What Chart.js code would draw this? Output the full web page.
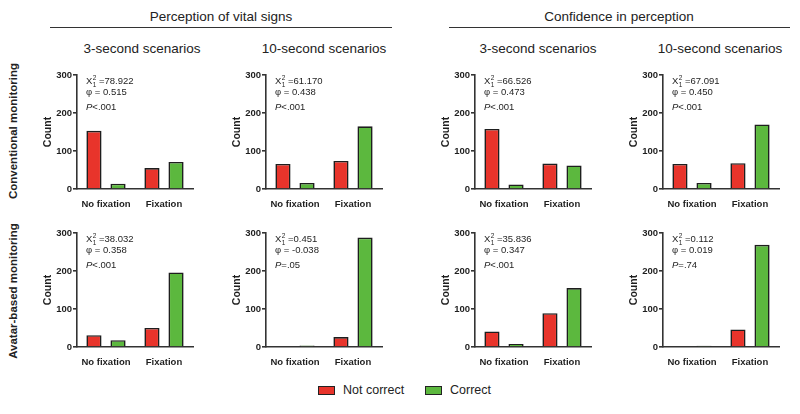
<!DOCTYPE html>
<html><head><meta charset="utf-8">
<script src="https://cdn.jsdelivr.net/npm/chart.js@4.4.1/dist/chart.umd.min.js"></script>
<style>
html,body{margin:0;padding:0;background:#fff;}
#wrap{position:relative;width:800px;height:414px;overflow:hidden;font-family:"Liberation Sans",Arial,sans-serif;color:#222;}
.t{position:absolute;white-space:nowrap;transform:translate(-50%,-50%);}
.rule{position:absolute;height:0;border-top:1.5px solid #333;}
canvas{position:absolute;}
.lg{position:absolute;display:flex;align-items:center;font-size:12.5px;}
.box{width:15px;height:7px;border:1.2px solid #222;margin-right:8px;}
</style></head><body>
<div id="wrap"></div>
<script>
// ---- data ----
const categories = ["No fixation", "Fixation"];
const seriesNames = ["Not correct", "Correct"];
const yTicks = [0, 100, 200, 300];
const groupTitles = ["Perception of vital signs", "Confidence in perception"];
const scenarioTitles = ["3-second scenarios", "10-second scenarios"];
const rowTitles = ["Conventional monitoring", "Avatar-based monitoring"];

// Conventional monitoring (top row)
const convPerc3NotCorrect  = [153, 55];
const convPerc3Correct     = [14, 71];
const convPerc10NotCorrect = [66, 74];
const convPerc10Correct    = [16, 165];
const convConf3NotCorrect  = [158, 67];
const convConf3Correct     = [12, 62];
const convConf10NotCorrect = [66, 68];
const convConf10Correct    = [16, 170];
// Avatar-based monitoring (bottom row)
const avPerc3NotCorrect  = [31, 50];
const avPerc3Correct     = [18, 196];
const avPerc10NotCorrect = [0, 26];
const avPerc10Correct    = [4, 288];
const avConf3NotCorrect  = [41, 89];
const avConf3Correct     = [8, 155];
const avConf10NotCorrect = [0, 46];
const avConf10Correct    = [3, 269];

// statistics text per panel (row-major: conv P3, P10, C3, C10, avatar P3, P10, C3, C10)
const chiSquares = ["78.922", "61.170", "66.526", "67.091", "38.032", "0.451", "35.836", "0.112"];
const phiValues  = ["0.515", "0.438", "0.473", "0.450", "0.358", "-0.038", "0.347", "0.019"];
const pValues    = ["<.001", "<.001", "<.001", "<.001", "<.001", "=.05", "<.001", "=.74"];

const RED = "#e8342b", GREEN = "#5cb83e", INK = "#1e1e1e", AXIS = "#333";
const FONT = "'Liberation Sans', Arial, sans-serif";

const panels = [
  [convPerc3NotCorrect, convPerc3Correct],
  [convPerc10NotCorrect, convPerc10Correct],
  [convConf3NotCorrect, convConf3Correct],
  [convConf10NotCorrect, convConf10Correct],
  [avPerc3NotCorrect, avPerc3Correct],
  [avPerc10NotCorrect, avPerc10Correct],
  [avConf3NotCorrect, avConf3Correct],
  [avConf10NotCorrect, avConf10Correct]
];

// ---- layout ----
const wrap = document.getElementById('wrap');
function text(str, x, y, css) {
  const d = document.createElement('div');
  d.className = 't'; d.textContent = str; d.style.left = x + 'px'; d.style.top = y + 'px';
  Object.assign(d.style, css || {}); wrap.appendChild(d); return d;
}
text(groupTitles[0], 221, 16, {fontSize: '13.5px'});
text(groupTitles[1], 619, 16, {fontSize: '13.5px'});
[[50, 392], [449, 790]].forEach(([a, b]) => {
  const r = document.createElement('div'); r.className = 'rule';
  r.style.left = a + 'px'; r.style.width = (b - a) + 'px'; r.style.top = '27px'; wrap.appendChild(r);
});
const subX = [142, 324, 538, 720];
subX.forEach((x, i) => text(scenarioTitles[i % 2], x, 48, {fontSize: '13.5px'}));
text(rowTitles[0], 13, 131, {fontSize: '11.5px', fontWeight: 'bold', transform: 'translate(-50%,-50%) rotate(-90deg)'});
text(rowTitles[1], 13, 291, {fontSize: '11.5px', fontWeight: 'bold', transform: 'translate(-50%,-50%) rotate(-90deg)'});

// legend
[[318, RED, seriesNames[0]], [425, GREEN, seriesNames[1]]].forEach(([x, c, s]) => {
  const l = document.createElement('div'); l.className = 'lg';
  l.style.left = x + 'px'; l.style.top = '383px';
  const b = document.createElement('div'); b.className = 'box'; b.style.background = c;
  const sp = document.createElement('span'); sp.textContent = s;
  l.appendChild(b); l.appendChild(sp); wrap.appendChild(l);
});

// stats annotation plugin
const statsPlugin = {
  id: 'stats',
  afterDraw(chart, args, opts) {
    const ctx = chart.ctx, a = chart.chartArea;
    const x = a.left + 9;
    ctx.save();
    ctx.fillStyle = INK; ctx.textBaseline = 'middle'; ctx.textAlign = 'left';
    ctx.font = "9.5px " + FONT;
    let y = a.top + 6.5;
    ctx.fillText('X', x, y);
    let w = ctx.measureText('X').width;
    ctx.font = "6.5px " + FONT;
    ctx.fillText('2', x + w + 0.5, y - 3);
    ctx.fillText('1', x + w + 0.5, y + 3.5);
    ctx.font = "9.5px " + FONT;
    ctx.fillText(' =' + opts.chi, x + w + 4, y);
    y = a.top + 17;
    ctx.fillText('\u03C6 = ' + opts.phi, x, y);
    y = a.top + 32;
    ctx.font = "italic 9.5px " + FONT;
    ctx.fillText('P', x, y);
    const pw = ctx.measureText('P').width;
    ctx.font = "9.5px " + FONT;
    ctx.fillText(opts.p, x + pw, y);
    ctx.restore();
  }
};

const axisLeft = [77, 266, 475, 663];
const rowTop = [67, 225];
const CW = 42 + 116 + 6, CH = 140;

panels.forEach((vals, i) => {
  const row = Math.floor(i / 4), col = i % 4;
  const cv = document.createElement('canvas');
  cv.width = CW; cv.height = CH;
  cv.style.left = (axisLeft[col] - 42) + 'px';
  cv.style.top = rowTop[row] + 'px';
  cv.style.width = CW + 'px'; cv.style.height = CH + 'px';
  wrap.appendChild(cv);
  new Chart(cv, {
    type: 'bar',
    data: {
      labels: categories,
      datasets: [
        {label: seriesNames[0], data: vals[0], backgroundColor: RED},
        {label: seriesNames[1], data: vals[1], backgroundColor: GREEN}
      ]
    },
    options: {
      responsive: false, animation: false, devicePixelRatio: 1,
      layout: {padding: {top: 8, right: 6, left: 0, bottom: 0}},
      datasets: {bar: {borderColor: INK, borderWidth: 1.6, borderSkipped: 'start',
        categoryPercentage: 0.83, barPercentage: 0.63}},
      plugins: {
        legend: {display: false}, tooltip: {enabled: false},
        stats: {chi: chiSquares[i], phi: phiValues[i], p: pValues[i]}
      },
      scales: {
        x: {
          grid: {display: false},
          border: {display: true, color: AXIS, width: 1.6},
          ticks: {color: INK, font: {family: FONT, size: 9.5, weight: 'bold'}, padding: 2, maxRotation: 0, autoSkip: false},
          afterFit(s) { s.height = 18; }
        },
        y: {
          min: 0, max: 300,
          afterBuildTicks(s) { s.ticks = yTicks.map(v => ({value: v})); },
          grid: {display: true, drawOnChartArea: false, drawTicks: true, tickLength: 4, color: AXIS, lineWidth: 1.6},
          border: {display: true, color: AXIS, width: 1.6},
          ticks: {color: INK, font: {family: FONT, size: 9.5, weight: 'bold'}, padding: 1},
          title: {display: true, text: 'Count', color: INK, font: {family: FONT, size: 10.5, weight: 'bold'}, padding: {top: 7, bottom: 0}},
          afterFit(s) { s.width = 42; }
        }
      }
    },
    plugins: [statsPlugin]
  });
});
</script>
</body></html>
